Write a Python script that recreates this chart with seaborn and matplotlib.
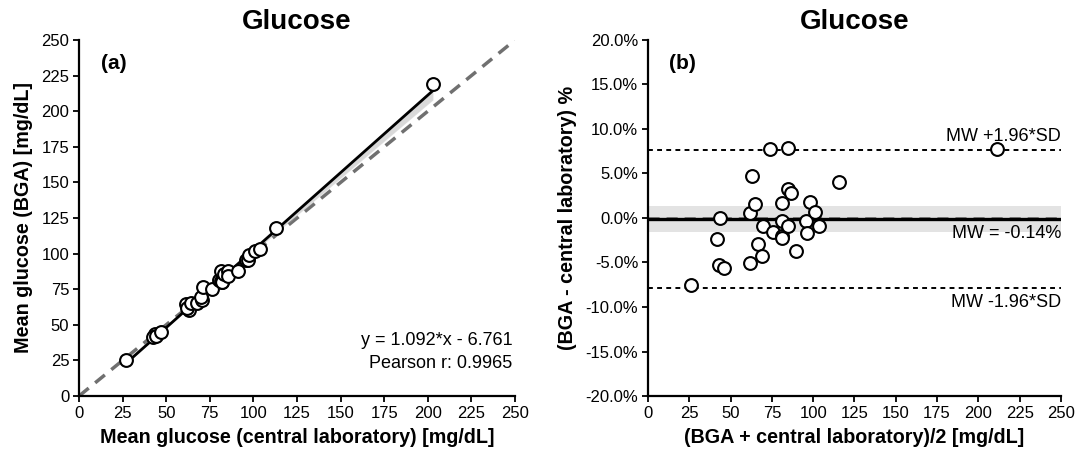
import numpy as np
import pandas as pd
import matplotlib
matplotlib.use("Agg")
import matplotlib.pyplot as plt
import seaborn as sns

# ---- data ----
lab_glucose = [26.98, 43.59, 42.28, 44.14, 47.28, 63.25, 61.40, 61.73, 64.09, 67.59,
               70.68, 69.91, 71.14, 76.31, 80.20, 81.22, 81.72, 82.02, 81.26, 83.24,
               85.20, 85.27, 91.04, 95.64, 96.89, 97.34, 100.96, 103.97, 113.05, 202.92]
bga_glucose = [25.02, 43.61, 41.32, 41.86, 44.72, 60.15, 64.40, 62.07, 65.11, 65.61,
               67.72, 69.29, 76.86, 75.09, 81.60, 80.98, 80.08, 80.18, 87.94, 85.96,
               87.60, 84.53, 87.76, 95.36, 95.31, 99.06, 101.64, 103.03, 117.75, 219.28]
ba_mean = [26.0, 43.6, 41.8, 43.0, 46.0, 61.7, 62.9, 61.9, 64.6, 66.6,
           69.2, 69.6, 74.0, 75.7, 80.9, 81.1, 80.9, 81.1, 84.6, 84.6,
           86.4, 84.9, 89.4, 95.5, 96.1, 98.2, 101.3, 103.5, 115.4, 211.1]
ba_diff_pct = [-7.53, 0.04, -2.32, -5.32, -5.58, -5.02, 4.76, 0.56, 1.57, -2.96,
               -4.27, -0.90, 7.72, -1.61, 1.72, -0.30, -2.02, -2.28, 7.90, 3.22,
               2.77, -0.86, -3.67, -0.30, -1.65, 1.76, 0.67, -0.90, 4.08, 7.75]
mw_pct = -0.14
loa_upper = 7.64
loa_lower = -7.92
mw_ci_half = 1.48
x_ticks = [0, 25, 50, 75, 100, 125, 150, 175, 200, 225, 250]
y_ticks_a = [0, 25, 50, 75, 100, 125, 150, 175, 200, 225, 250]
y_ticks_b = [-20, -15, -10, -5, 0, 5, 10, 15, 20]

sns.set_theme(style="ticks")
plt.rcParams['font.family'] = ['Liberation Sans', 'DejaVu Sans']
plt.rcParams['text.color'] = 'black'
plt.rcParams['axes.labelcolor'] = 'black'
plt.rcParams['axes.titlecolor'] = 'black'

fig = plt.figure(figsize=(10.78, 4.53), dpi=100)
axA = fig.add_axes([0.0733, 0.1258, 0.4045, 0.786])
axB = fig.add_axes([0.6011, 0.1258, 0.3831, 0.786])

df_a = pd.DataFrame({"lab": lab_glucose, "bga": bga_glucose})
df_b = pd.DataFrame({"mean": ba_mean, "diff": ba_diff_pct})

LBL = 14.2
TXT = 13
TICK = 12

# ---- panel (a) ----
axA.axline((0, 0), slope=1, color="#707070", lw=2.5, dashes=(3.6, 2.4), zorder=1)
sns.regplot(data=df_a, x="lab", y="bga", scatter=False, ci=60, seed=3,
            color="black", line_kws=dict(lw=2), truncate=True, ax=axA)
sns.scatterplot(data=df_a, x="lab", y="bga", color="white", edgecolor="black",
                s=85, linewidth=1.5, zorder=5, ax=axA)
axA.set_xlim(0, 250)
axA.set_ylim(0, 250)
axA.set_xticks(x_ticks)
axA.set_yticks(y_ticks_a)
axA.set_xlabel("Mean glucose (central laboratory) [mg/dL]", fontsize=LBL, fontweight="bold", labelpad=5)
axA.set_ylabel("Mean glucose (BGA) [mg/dL]", fontsize=LBL, fontweight="bold", labelpad=6)
axA.set_title("Glucose", fontsize=20, fontweight="bold", pad=8)
axA.text(0.05, 0.935, "(a)", transform=axA.transAxes, fontsize=15, fontweight="bold",
         ha="left", va="center")
axA.text(0.994, 0.155, "y = 1.092*x - 6.761", transform=axA.transAxes, fontsize=TXT,
         ha="right", va="center")
axA.text(0.994, 0.09, "Pearson r: 0.9965", transform=axA.transAxes, fontsize=TXT,
         ha="right", va="center")

# ---- panel (b) ----
axB.axhspan(mw_pct - mw_ci_half, mw_pct + mw_ci_half, color="#e3e3e3", lw=0, zorder=0)
axB.axhline(0, color="#808080", lw=2, dashes=(4, 2.5), zorder=1)
axB.axhline(mw_pct, color="black", lw=2.4, zorder=2)
axB.axhline(loa_upper, color="black", lw=1.4, dashes=(2.5, 2.2), zorder=2)
axB.axhline(loa_lower, color="black", lw=1.4, dashes=(2.5, 2.2), zorder=2)
sns.scatterplot(data=df_b, x="mean", y="diff", color="white", edgecolor="black",
                s=85, linewidth=1.5, zorder=5, ax=axB)
axB.set_xlim(0, 250)
axB.set_ylim(-20, 20)
axB.set_xticks(x_ticks)
axB.set_yticks(y_ticks_b)
axB.set_yticklabels([f"{v:.1f}%" for v in y_ticks_b])
axB.set_xlabel("(BGA + central laboratory)/2 [mg/dL]", fontsize=LBL, fontweight="bold", labelpad=5)
axB.set_ylabel("(BGA - central laboratory) %", fontsize=LBL, fontweight="bold", labelpad=6)
axB.set_title("Glucose", fontsize=20, fontweight="bold", pad=8)
axB.text(0.05, 0.935, "(b)", transform=axB.transAxes, fontsize=15, fontweight="bold",
         ha="left", va="center")
axB.text(1.0, loa_upper + 1.46, "MW +1.96*SD", fontsize=TXT, ha="right", va="center",
         transform=axB.get_yaxis_transform())
axB.text(1.0, mw_pct - 1.55, f"MW = {mw_pct:.2f}%", fontsize=TXT, ha="right", va="center",
         transform=axB.get_yaxis_transform())
axB.text(1.0, loa_lower - 1.52, "MW -1.96*SD", fontsize=TXT, ha="right", va="center",
         transform=axB.get_yaxis_transform())

for ax in (axA, axB):
    sns.despine(ax=ax)
    for s in ("left", "bottom"):
        ax.spines[s].set_linewidth(1.6)
        ax.spines[s].set_color("black")
    ax.tick_params(axis="both", direction="out", length=4, width=1.3, color="black",
                   labelsize=TICK, labelcolor="black", pad=3)

fig.savefig("out.png", dpi=100)
